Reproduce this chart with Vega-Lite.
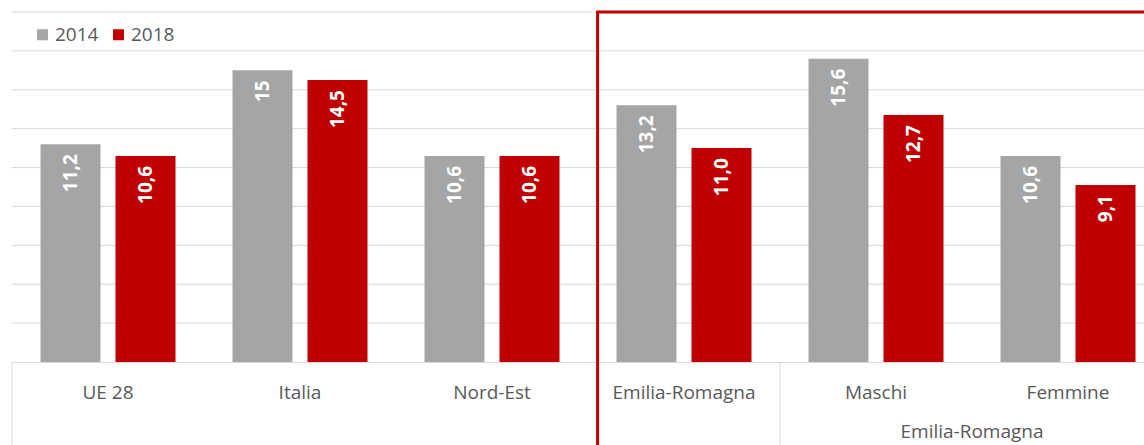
{
  "$schema": "https://vega.github.io/schema/vega-lite/v6.json",
  "width": 1152,
  "height": 350,
  "padding": {"left": 11, "top": 10, "right": 0, "bottom": 0},
  "config": {"view": {"stroke": null}, "font": "Open Sans"},
  "datasets": {
    "bars": [
      {"cat": "UE 28", "year": "2014", "value": 11.2, "label": "11,2"},
      {"cat": "UE 28", "year": "2018", "value": 10.6, "label": "10,6"},
      {"cat": "Italia", "year": "2014", "value": 15.0, "label": "15"},
      {"cat": "Italia", "year": "2018", "value": 14.5, "label": "14,5"},
      {"cat": "Nord-Est", "year": "2014", "value": 10.6, "label": "10,6"},
      {"cat": "Nord-Est", "year": "2018", "value": 10.6, "label": "10,6"},
      {"cat": "Emilia-Romagna", "year": "2014", "value": 13.2, "label": "13,2"},
      {"cat": "Emilia-Romagna", "year": "2018", "value": 11.0, "label": "11,0"},
      {"cat": "Maschi", "year": "2014", "value": 15.6, "label": "15,6"},
      {"cat": "Maschi", "year": "2018", "value": 12.7, "label": "12,7"},
      {"cat": "Femmine", "year": "2014", "value": 10.6, "label": "10,6"},
      {"cat": "Femmine", "year": "2018", "value": 9.1, "label": "9,1"}
    ],
    "grid": [{"g": 2}, {"g": 4}, {"g": 6}, {"g": 8}, {"g": 10}, {"g": 12}, {"g": 14}, {"g": 16}, {"g": 18}],
    "sep": [{"cat": "UE 28"}, {"cat": "Maschi"}],
    "grp": [{"cat": "Femmine", "label": "Emilia-Romagna"}],
    "frame": [{"start": "Emilia-Romagna", "end": "Femmine"}]
  },
  "layer": [
    {
      "data": {"name": "grid"},
      "mark": {"type": "rule", "color": "#d9d9d9", "strokeWidth": 1},
      "encoding": {
        "y": {
          "field": "g",
          "type": "quantitative",
          "title": null,
          "scale": {"domain": [0, 18], "nice": false},
          "axis": null
        }
      }
    },
    {
      "data": {"name": "bars"},
      "mark": {"type": "bar"},
      "encoding": {
        "x": {
          "field": "cat",
          "type": "nominal",
          "title": null,
          "scale": {
            "domain": ["UE 28", "Italia", "Nord-Est", "Emilia-Romagna", "Maschi", "Femmine"],
            "paddingInner": 0,
            "paddingOuter": 0
          },
          "axis": {
            "labelFontSize": 19,
            "labelColor": "#595959",
            "labelPadding": 30,
            "labelBaseline": "middle",
            "labelAngle": 0,
            "ticks": false,
            "tickSize": 0,
            "grid": false,
            "domainColor": "#d9d9d9",
            "domainWidth": 1
          }
        },
        "xOffset": {
          "field": "year",
          "type": "nominal",
          "scale": {"paddingInner": 0.2, "paddingOuter": 0.38}
        },
        "y": {
          "field": "value",
          "type": "quantitative",
          "title": null,
          "axis": null
        },
        "color": {
          "field": "year",
          "type": "nominal",
          "scale": {"range": ["#a5a5a5", "#c00000"]},
          "legend": {
            "orient": "none",
            "legendX": 21,
            "legendY": 13,
            "direction": "horizontal",
            "title": null,
            "symbolType": "square",
            "symbolSize": 121,
            "symbolStrokeWidth": 0,
            "symbolOpacity": 1,
            "labelFontSize": 19,
            "labelColor": "#595959",
            "labelOffset": 3,
            "columnSpacing": 18,
            "padding": 0
          }
        }
      }
    },
    {
      "data": {"name": "bars"},
      "mark": {
        "type": "text",
        "angle": 270,
        "align": "right",
        "baseline": "middle",
        "dx": -10,
        "color": "#ffffff",
        "fontWeight": "bold",
        "fontSize": 19
      },
      "encoding": {
        "x": {"field": "cat", "type": "nominal"},
        "xOffset": {"field": "year", "type": "nominal"},
        "y": {"field": "value", "type": "quantitative", "axis": null},
        "text": {"field": "label"}
      }
    },
    {
      "data": {"name": "sep"},
      "mark": {"type": "rule", "color": "#d9d9d9", "strokeWidth": 1},
      "encoding": {
        "x": {"field": "cat", "type": "nominal", "bandPosition": 0},
        "y": {"datum": 0, "axis": null},
        "y2": {"datum": -5}
      }
    },
    {
      "data": {"name": "grp"},
      "mark": {"type": "text", "fontSize": 19, "color": "#595959", "baseline": "middle", "align": "center"},
      "encoding": {
        "x": {"field": "cat", "type": "nominal", "bandPosition": 0},
        "y": {"datum": -3.6, "axis": null},
        "text": {"field": "label"}
      }
    },
    {
      "data": {"name": "frame"},
      "mark": {"type": "rect", "filled": false, "stroke": "#c00000", "strokeWidth": 3},
      "encoding": {
        "x": {"field": "start", "type": "nominal", "bandPosition": 0.05},
        "x2": {"field": "end", "bandPosition": 1},
        "y": {"datum": 18, "axis": null},
        "y2": {"datum": -5}
      }
    }
  ]
}
